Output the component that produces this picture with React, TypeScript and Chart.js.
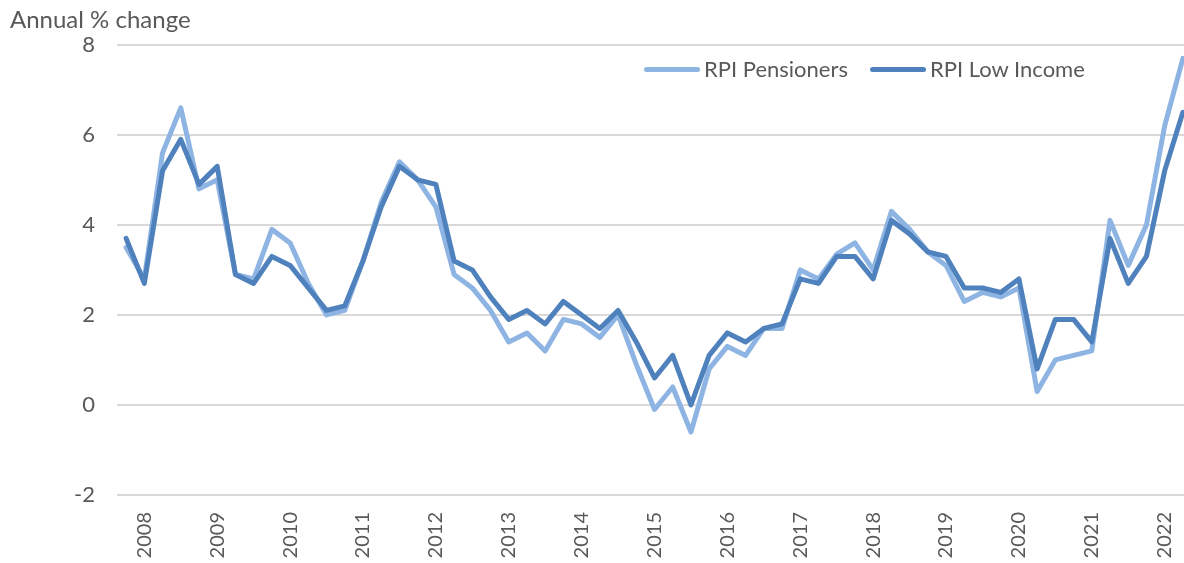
import React, { useEffect, useRef } from 'react';
import { Chart, registerables } from 'chart.js';

Chart.register(...registerables);

const quarters = [
  '2007 Q4',
  '2008 Q1', '2008 Q2', '2008 Q3', '2008 Q4',
  '2009 Q1', '2009 Q2', '2009 Q3', '2009 Q4',
  '2010 Q1', '2010 Q2', '2010 Q3', '2010 Q4',
  '2011 Q1', '2011 Q2', '2011 Q3', '2011 Q4',
  '2012 Q1', '2012 Q2', '2012 Q3', '2012 Q4',
  '2013 Q1', '2013 Q2', '2013 Q3', '2013 Q4',
  '2014 Q1', '2014 Q2', '2014 Q3', '2014 Q4',
  '2015 Q1', '2015 Q2', '2015 Q3', '2015 Q4',
  '2016 Q1', '2016 Q2', '2016 Q3', '2016 Q4',
  '2017 Q1', '2017 Q2', '2017 Q3', '2017 Q4',
  '2018 Q1', '2018 Q2', '2018 Q3', '2018 Q4',
  '2019 Q1', '2019 Q2', '2019 Q3', '2019 Q4',
  '2020 Q1', '2020 Q2', '2020 Q3', '2020 Q4',
  '2021 Q1', '2021 Q2', '2021 Q3', '2021 Q4',
  '2022 Q1', '2022 Q2',
];

const rpiPensioners = [
  3.5,
  2.8, 5.6, 6.6, 4.8,
  5.0, 2.9, 2.8, 3.9,
  3.6, 2.7, 2.0, 2.1,
  3.2, 4.5, 5.4, 5.0,
  4.4, 2.9, 2.6, 2.1,
  1.4, 1.6, 1.2, 1.9,
  1.8, 1.5, 2.0, 0.9,
  -0.1, 0.4, -0.6, 0.8,
  1.3, 1.1, 1.7, 1.7,
  3.0, 2.8, 3.35, 3.6,
  3.0, 4.3, 3.9, 3.4,
  3.1, 2.3, 2.5, 2.4,
  2.6, 0.3, 1.0, 1.1,
  1.2, 4.1, 3.1, 4.0,
  6.2, 7.7,
];

const rpiLowIncome = [
  3.7,
  2.7, 5.2, 5.9, 4.9,
  5.3, 2.9, 2.7, 3.3,
  3.1, 2.6, 2.1, 2.2,
  3.2, 4.4, 5.3, 5.0,
  4.9, 3.2, 3.0, 2.4,
  1.9, 2.1, 1.8, 2.3,
  2.0, 1.7, 2.1, 1.4,
  0.6, 1.1, 0.0, 1.1,
  1.6, 1.4, 1.7, 1.8,
  2.8, 2.7, 3.3, 3.3,
  2.8, 4.1, 3.8, 3.4,
  3.3, 2.6, 2.6, 2.5,
  2.8, 0.8, 1.9, 1.9,
  1.4, 3.7, 2.7, 3.3,
  5.2, 6.5,
];

const yTickValues = [-2, 0, 2, 4, 6, 8];

const seriesNames = ['RPI Pensioners', 'RPI Low Income'];
const seriesColors = ['#8EB4E3', '#4F81BD'];

const FONT = 'Lato, Carlito, Calibri, sans-serif';
const TEXT = '#595959';

export default function App() {
  const canvasRef = useRef<HTMLCanvasElement | null>(null);

  useEffect(() => {
    const canvas = canvasRef.current;
    if (!canvas) return;
    const chart = new Chart(canvas, {
      type: 'line',
      data: {
        labels: quarters,
        datasets: [
          {
            label: seriesNames[0],
            data: rpiPensioners,
            borderColor: seriesColors[0],
            backgroundColor: seriesColors[0],
            borderWidth: 5,
            pointRadius: 0,
            tension: 0,
            borderJoinStyle: 'round',
            borderCapStyle: 'round',
            order: 2,
          },
          {
            label: seriesNames[1],
            data: rpiLowIncome,
            borderColor: seriesColors[1],
            backgroundColor: seriesColors[1],
            borderWidth: 5,
            pointRadius: 0,
            tension: 0,
            borderJoinStyle: 'round',
            borderCapStyle: 'round',
            order: 1,
          },
        ],
      },
      options: {
        animation: false,
        responsive: true,
        maintainAspectRatio: false,
        layout: { padding: { left: 10, right: 0, top: 0, bottom: 0 } },
        plugins: {
          legend: { display: false },
          tooltip: { enabled: false },
          title: {
            display: true,
            text: 'Annual % change',
            align: 'start',
            color: TEXT,
            font: { family: FONT, size: 24, weight: 'normal' },
            padding: { top: 6, bottom: 10 },
          },
        },
        scales: {
          x: {
            type: 'category',
            offset: true,
            grid: { display: false },
            border: { display: false },
            afterFit: (scale: any) => {
              scale.height = 68;
              scale.paddingLeft = 0;
              scale.paddingRight = 0;
            },
            ticks: {
              autoSkip: false,
              minRotation: 90,
              maxRotation: 90,
              padding: 9,
              color: TEXT,
              font: { family: FONT, size: 20 },
              callback: (_v: any, index: number) => {
                const q = quarters[index];
                return q.endsWith('Q1') ? q.slice(0, 4) : '';
              },
            },
          },
          y: {
            min: yTickValues[0],
            max: yTickValues[yTickValues.length - 1],
            afterFit: (scale: any) => {
              scale.width = 107;
            },
            afterBuildTicks: (scale: any) => {
              scale.ticks = yTickValues.map((v) => ({ value: v }));
            },
            grid: { color: '#D9D9D9', lineWidth: 2, drawTicks: false },
            border: { display: false },
            ticks: {
              padding: 22,
              color: TEXT,
              font: { family: FONT, size: 22 },
            },
          },
        },
      },
    });
    return () => chart.destroy();
  }, []);

  const legendItem = (i: number, lineLeft: number) => (
    <div
      key={i}
      style={{
        position: 'absolute',
        left: lineLeft,
        top: 55,
        height: 28,
        display: 'flex',
        alignItems: 'center',
        whiteSpace: 'nowrap',
      }}
    >
      <span
        style={{
          display: 'inline-block',
          width: 56,
          height: 5,
          borderRadius: 3,
          background: seriesColors[i],
          marginRight: 4,
        }}
      />
      <span style={{ fontFamily: FONT, fontSize: 22, color: TEXT, lineHeight: '28px' }}>
        {seriesNames[i]}
      </span>
    </div>
  );

  return (
    <div
      style={{
        position: 'fixed',
        left: 0,
        top: 0,
        width: 1184,
        height: 563,
        overflow: 'hidden',
        background: '#FFFFFF',
      }}
    >
      <div style={{ position: 'absolute', left: 0, top: 0, width: 1192, height: 563 }}>
        <canvas ref={canvasRef} />
      </div>
      {legendItem(0, 644)}
      {legendItem(1, 870)}
    </div>
  );
}
